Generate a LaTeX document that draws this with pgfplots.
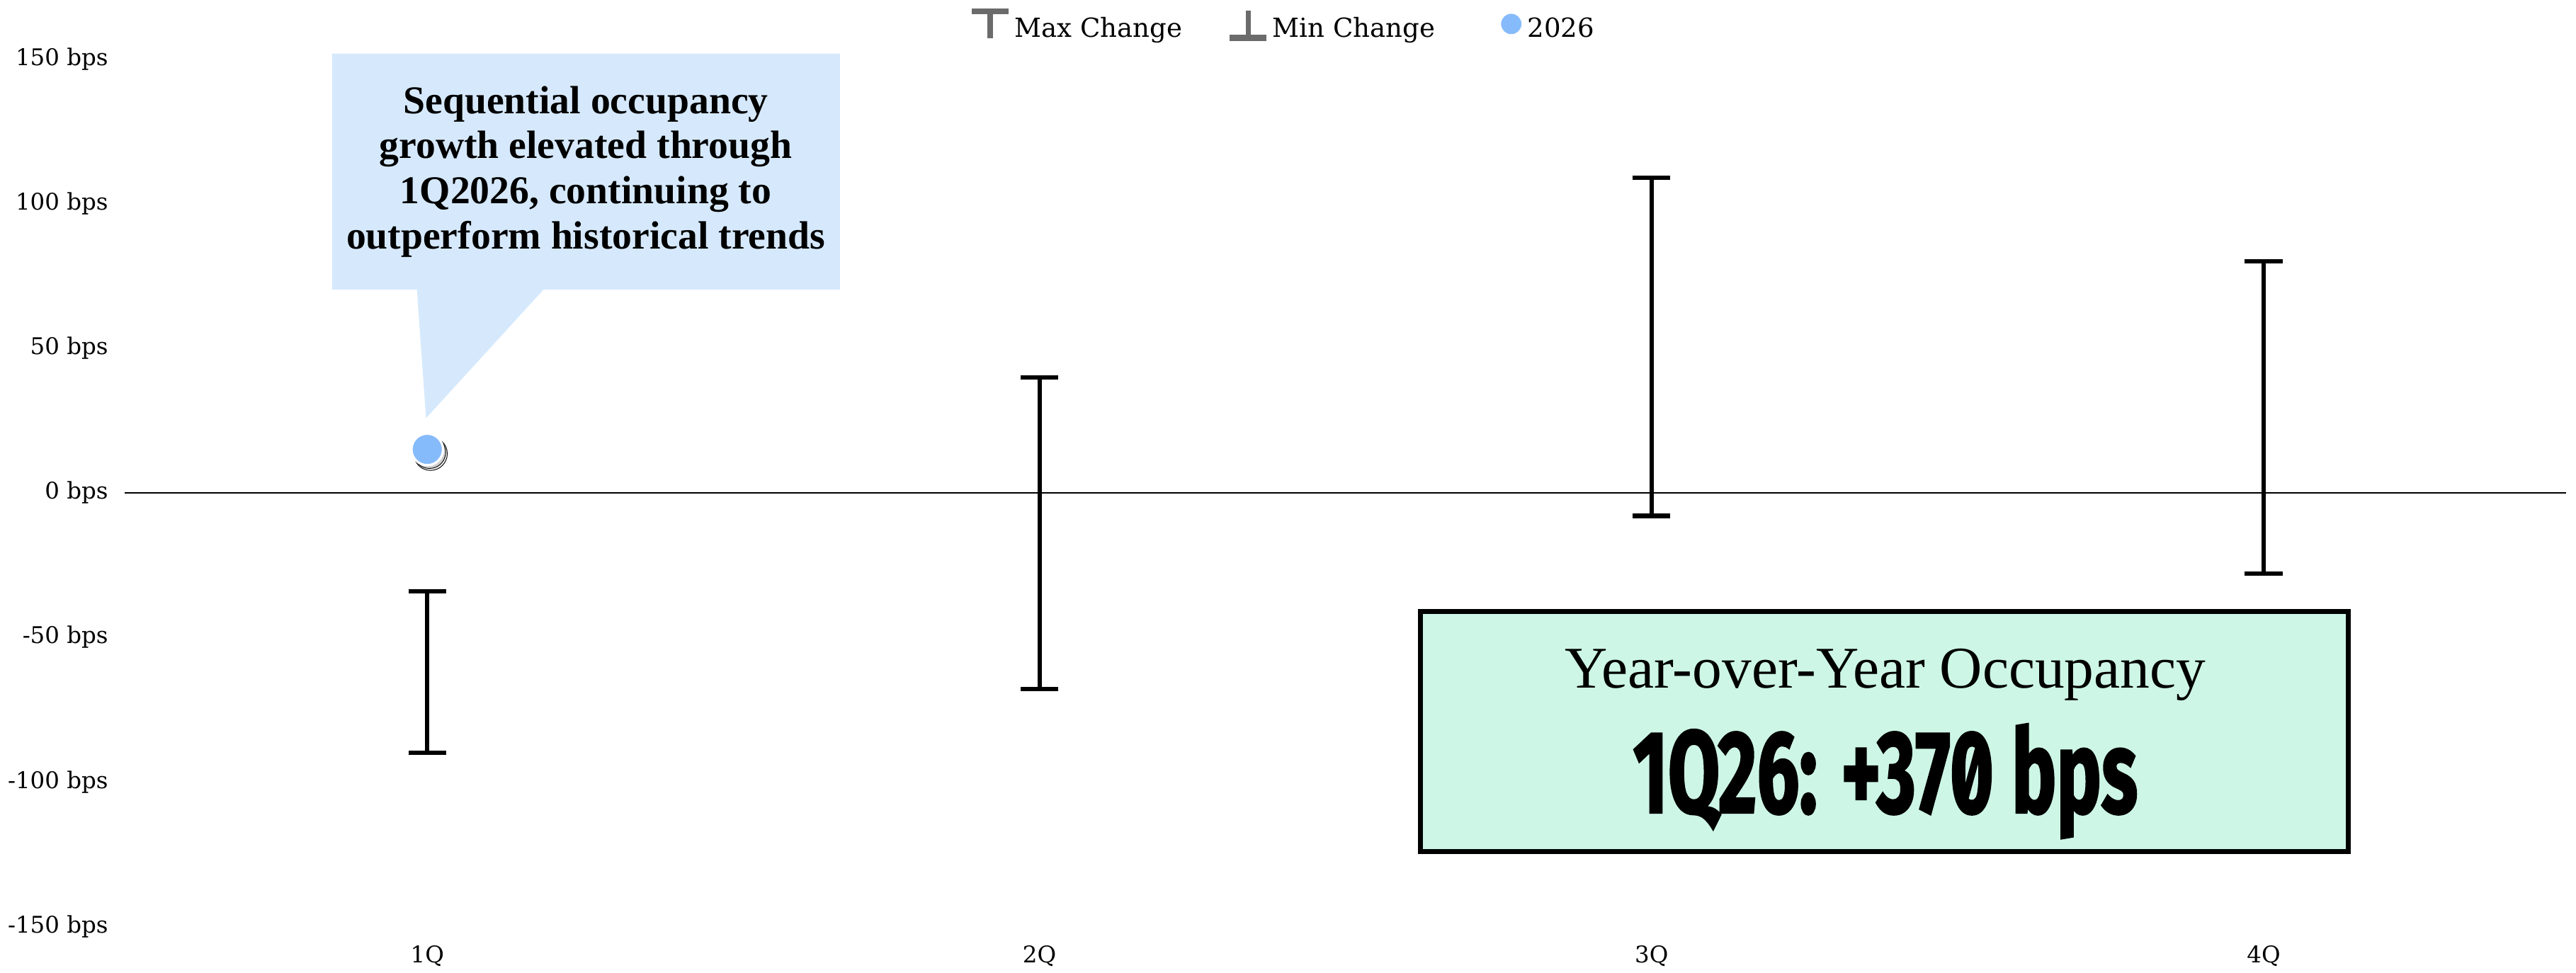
\documentclass[border=0pt]{standalone}
\usepackage{fontspec}
\usepackage{pgfplots}
\pgfplotsset{compat=1.18}
\usepackage{graphicx}

\setmainfont{Liberation Serif}
\newfontfamily\tickfont{DejaVu Serif}
\newfontfamily\bigfont{Fira Sans}[RawFeature=+zero, BoldFeatures={FakeBold=2}]

\definecolor{calloutblue}{HTML}{D6E9FC}
\definecolor{boxmint}{HTML}{CDF6E6}
\definecolor{dotblue}{HTML}{86BBFB}
\definecolor{legendgray}{HTML}{6B6B6B}

% range bars: one line per quarter with flat caps at both ends
\pgfplotsset{
  rangebar/.style={forget plot, black, line width=2.6bp, mark=-,
    mark size=11.5bp, mark options={solid, line width=2.6bp}},
  maxicon/.style={legend image code/.code={
    \fill[legendgray] (0bp,8.8bp) rectangle (22bp,12.1bp);
    \fill[legendgray] (9.6bp,-5.6bp) rectangle (12.4bp,8.9bp);}},
  minicon/.style={legend image code/.code={
    \fill[legendgray] (0bp,-7.5bp) rectangle (22bp,-4.2bp);
    \fill[legendgray] (9.6bp,-4.3bp) rectangle (12.4bp,10.6bp);}},
  doticon/.style={legend image code/.code={
    \path[draw=none, fill=none] (0bp,0bp) rectangle (11bp,1bp);
    \fill[dotblue] (17.3bp,2.7bp) circle (6bp);}},
}

\begin{document}
\begin{tikzpicture}
\path[use as bounding box] (0,0) rectangle (1568bp,592bp);
\begin{axis}[
  at={(76bp,28bp)}, anchor=south west,
  width=1486bp, height=528bp, scale only axis,
  xmin=-0.494, xmax=3.494, ymin=-150, ymax=150,
  clip=false,
  axis line style={draw=none},
  tick style={draw=none},
  xtick={0,1,2,3},
  xticklabels={1Q,2Q,3Q,4Q},
  ytick={-150,-100,-50,0,50,100,150},
  yticklabels={-150 bps,-100 bps,-50 bps,0 bps,50 bps,100 bps,150 bps},
  xticklabel style={font=\tickfont\fontsize{14bp}{16bp}\selectfont,
    anchor=center, inner sep=0pt, yshift=-18bp},
  yticklabel style={font=\tickfont\fontsize{14bp}{16bp}\selectfont,
    anchor=east, inner sep=0pt, xshift=-10bp},
  legend style={at={(0.4744,1.0398)}, anchor=center, draw=none, fill=none,
    inner sep=0pt, legend columns=3,
    font=\tickfont\fontsize{16bp}{18bp}\selectfont,
    nodes={inner sep=0pt},
    /tikz/every odd column/.append style={column sep=3.6bp},
    /tikz/every even column/.append style={column sep=29bp}},
  legend cell align=left,
]
% callout bubble pointing at the 2026 value
\fill[calloutblue] (axis cs:-0.1556,151.9) -- (axis cs:0.674,151.9)
  -- (axis cs:0.674,70.3) -- (axis cs:0.190,70.3)
  -- (axis cs:-0.002,25.8) -- (axis cs:-0.017,70.3)
  -- (axis cs:-0.1556,70.3) -- cycle;
\node[align=center, font=\bfseries\fontsize{24bp}{27.5bp}\selectfont]
  at (axis cs:0.259,111.1)
  {Sequential occupancy\\growth elevated through\\1Q2026, continuing to\\outperform historical trends};

% zero line
\draw[black, line width=0.9bp] (axis cs:-0.494,0) -- (axis cs:3.494,0);

% historical max / min change per quarter
\addplot[rangebar] coordinates {(0,-90) (0,-34)};
\addplot[rangebar] coordinates {(1,-68) (1,40)};
\addplot[rangebar] coordinates {(2,-8) (2,109)};
\addplot[rangebar] coordinates {(3,-28) (3,80)};

% 2026 value with a soft shadow
\addplot[forget plot, only marks, mark=*, mark size=10.2bp,
  mark options={draw=none, fill=black, fill opacity=0.07, xshift=2bp, yshift=-2.6bp}]
  coordinates {(0,15)};
\addplot[forget plot, only marks, mark=*, mark size=9.8bp,
  mark options={draw=none, fill=black, fill opacity=0.12, xshift=1.4bp, yshift=-1.8bp}]
  coordinates {(0,15)};
\addplot[forget plot, only marks, mark=*, mark size=9.6bp,
  mark options={draw=white, line width=1.4bp, fill=dotblue}]
  coordinates {(0,15)};

% year-over-year summary box
\draw[line width=3bp, fill=boxmint] (axis cs:1.6228,-41.0) rectangle (axis cs:3.1378,-124.1);
\node[anchor=base, inner sep=0pt, font=\fontsize{36bp}{40bp}\selectfont]
  at (axis cs:2.382,-67.4) {Year-over-Year Occupancy};
\node[anchor=base, inner sep=0pt] at (axis cs:2.382,-110.6)
  {\scalebox{0.645}[1]{\bigfont\bfseries\fontsize{71bp}{75bp}\selectfont 1Q26: +370 bps}};

\addlegendimage{maxicon}
\addlegendentry{Max Change}
\addlegendimage{minicon}
\addlegendentry{Min Change}
\addlegendimage{doticon}
\addlegendentry{2026}
\end{axis}
\end{tikzpicture}
\end{document}
